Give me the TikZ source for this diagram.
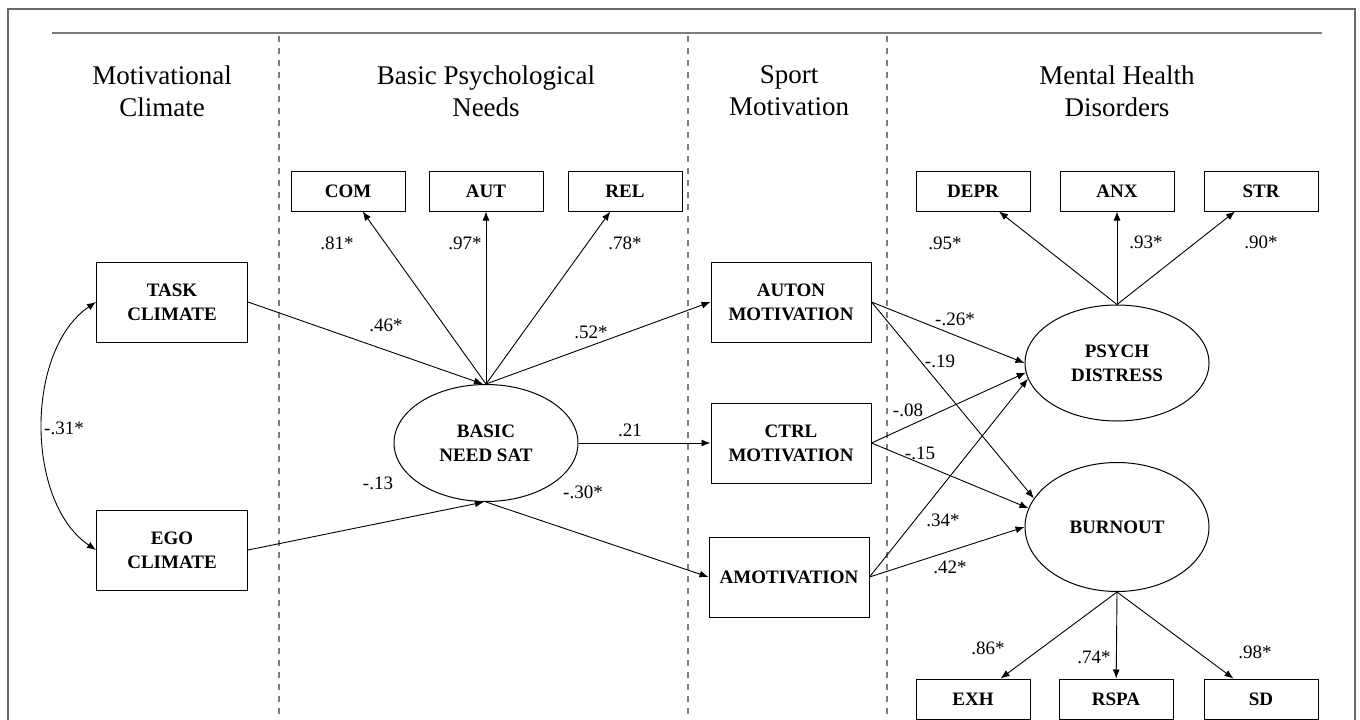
\documentclass[tikz,border=0pt]{standalone}
\usepackage{fontspec}
\setmainfont{Liberation Serif}
\usetikzlibrary{positioning, shapes.geometric, arrows.meta}
\definecolor{rulegray}{RGB}{125,125,125}
\definecolor{framegray}{RGB}{105,105,105}

\begin{document}
\begin{tikzpicture}[
        x=1pt, y=-1pt,
        box/.style={rectangle, draw=black, line width=1pt, minimum width=114pt, minimum height=40pt, inner sep=0pt, align=center, font=\fontsize{19}{24}\selectfont\bfseries},
        bigbox/.style={box, minimum width=151pt, minimum height=80pt},
        latent/.style={ellipse, draw=black, line width=1pt, minimum width=184pt, inner sep=0pt, align=center, font=\fontsize{19}{24}\selectfont\bfseries},
        head/.style={align=center, inner sep=0pt, font=\fontsize{27}{32}\selectfont},
        coef/.style={inner sep=0pt, font=\fontsize{19}{22}\selectfont},
        arrow/.style={-{Latex[length=9pt,width=7pt]}, line width=0.9pt},
        twoway/.style={{Latex[length=9pt,width=7pt]}-{Latex[length=9pt,width=7pt]}, line width=0.9pt},
        divider/.style={rulegray, line width=2pt, dash pattern=on 6pt off 6pt}
        ]
        \useasboundingbox (0,0) rectangle (1360,720);

        % frame and column rules
        \draw[framegray, line width=1.5pt] (8,720) -- (8,9) -- (1355,9) -- (1355,720);
        \draw[rulegray, line width=2pt] (52,33) -- (1322,33);
        \foreach \x in {279,688,887}
            \draw[divider] (\x,36) -- (\x,720);

        % column headings
        \node[head] (hclimate) at (162,91) {Motivational\\Climate};
        \node[head] (hneeds) at (486,91) {Basic Psychological\\Needs};
        \node[head] (hsport) at (789,91) {Sport\\Motivation};
        \node[head] (hhealth) at (1117,91) {Mental Health\\Disorders};

        % observed and latent variables
        \node[bigbox] (task) at (172,302) {TASK\\CLIMATE};
        \node[bigbox] (ego) at (172,550) {EGO\\CLIMATE};
        \node[box] (com) at (348,191) {COM};
        \node[box] (aut) at (486,191) {AUT};
        \node[box] (rel) at (625,191) {REL};
        \node[latent, minimum height=117pt] (basic) at (486,443) {BASIC\\NEED SAT};
        \node[bigbox, minimum width=160pt] (auton) at (791,302) {AUTON\\MOTIVATION};
        \node[bigbox, minimum width=160pt] (ctrl) at (791,443) {CTRL\\MOTIVATION};
        \node[bigbox, minimum width=160pt] (amot) at (789,577) {AMOTIVATION};
        \node[box] (depr) at (973,191) {DEPR};
        \node[box] (anx) at (1117,191) {ANX};
        \node[box] (str) at (1261,191) {STR};
        \node[latent, minimum height=116pt] (psych) at (1117,363) {PSYCH\\DISTRESS};
        \node[latent, minimum height=129pt] (burnout) at (1117,527) {BURNOUT};
        \node[box] (exh) at (973,699) {EXH};
        \node[box] (rspa) at (1116,699) {RSPA};
        \node[box] (sd) at (1261,699) {SD};

        % paths
        \draw[twoway] (task.west) .. controls (25,350) and (25,502) .. (ego.west);
        \draw[arrow] (task.east) -- (basic.93);
        \draw[arrow] (ego.east) -- (basic.268);
        \draw[arrow] (basic.north) -- (com);
        \draw[arrow] (basic.north) -- (aut);
        \draw[arrow] (basic.north) -- (rel);
        \draw[arrow] (basic.north) -- (auton.west);
        \draw[arrow] (basic.east) -- (ctrl.west);
        \draw[arrow] (basic.south) -- (amot.west);
        \draw[arrow] (auton.east) -- (psych.180);
        \draw[arrow] (auton.east) -- (burnout.161);
        \draw[arrow] (ctrl.east) -- (psych.186);
        \draw[arrow] (ctrl.east) -- (burnout.168);
        \draw[arrow] (amot.east) -- (psych.190);
        \draw[arrow] (amot.east) -- (burnout.180);
        \draw[arrow] (psych.north) -- (depr);
        \draw[arrow] (psych.north) -- (anx);
        \draw[arrow] (psych.north) -- (str);
        \draw[arrow] (burnout.south) -- (exh);
        \draw[arrow] (burnout.south) -- (rspa);
        \draw[arrow] (burnout.south) -- (sd);

        % coefficients
        \node[coef, anchor=west] (c31) at (44,428) {-.31*};
        \node[coef] (c46) at (386,325) {.46*};
        \node[coef] (c13) at (378,483) {-.13};
        \node[coef] (c81) at (337,243) {.81*};
        \node[coef] (c97) at (465,243) {.97*};
        \node[coef] (c78) at (625,243) {.78*};
        \node[coef] (c52) at (591,332) {.52*};
        \node[coef] (c21) at (630,430) {.21};
        \node[coef] (c30) at (583,492) {-.30*};
        \node[coef] (c26) at (955,319) {-.26*};
        \node[coef] (c19) at (940,361) {-.19};
        \node[coef] (c08) at (908,410) {-.08};
        \node[coef] (c15) at (920,453) {-.15};
        \node[coef] (c34) at (943,520) {.34*};
        \node[coef] (c42) at (950,567) {.42*};
        \node[coef] (c95) at (945,243) {.95*};
        \node[coef] (c93) at (1146,242) {.93*};
        \node[coef] (c90) at (1261,242) {.90*};
        \node[coef] (c86) at (988,648) {.86*};
        \node[coef] (c74) at (1094,657) {.74*};
        \node[coef] (c98) at (1255,652) {.98*};
    \end{tikzpicture}
\end{document}
